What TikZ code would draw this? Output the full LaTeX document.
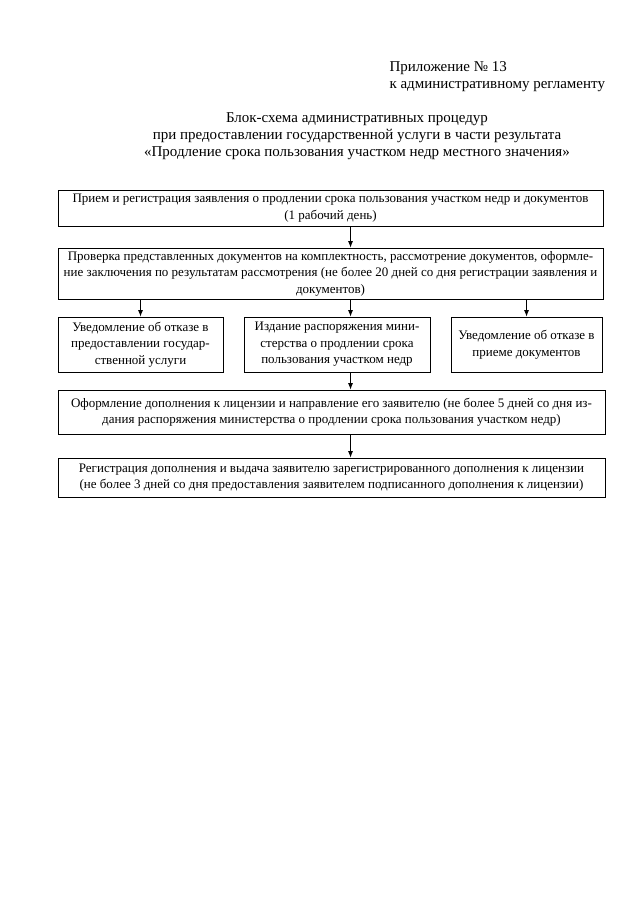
\documentclass[tikz,border=0pt]{standalone}
\usepackage{fontspec}
\setmainfont{Liberation Serif}
\usetikzlibrary{arrows.meta}
\tikzset{
  blok/.style={draw,line width=0.9pt,align=center,inner sep=0pt,
    font=\fontsize{13}{16.5}\selectfont},
  strelka/.style={-{Latex[length=6.5pt,width=5pt]},line width=0.7pt}
}
\begin{document}
\begin{tikzpicture}[x=1pt,y=-1pt]
   \fill[white] (0,0) rectangle (640,901);
   \useasboundingbox (0,0) rectangle (640,901);
   %header
   \node[anchor=west,align=left,font=\fontsize{15}{17}\selectfont] (pril) at (386,77)
     {Приложение № 13\\к административному регламенту};
   \node[align=center,font=\fontsize{15}{17}\selectfont] (zag) at (357,136)
     {Блок-схема административных процедур\\
      при предоставлении государственной услуги в части результата\\
      «Продление срока пользования участком недр местного значения»};
   %boxes
   \node[blok,minimum width=545,minimum height=36] (b1) at (330.5,208)
     {Прием и регистрация заявления о продлении срока пользования участком недр и документов\\
      (1 рабочий день)};
   \node[blok,minimum width=545,minimum height=51] (b2) at (330.5,273.5)
     {Проверка представленных документов на комплектность, рассмотрение документов, оформле-\\
      ние заключения по результатам рассмотрения (не более 20 дней со дня регистрации заявления и\\
      документов)};
   \node[blok,minimum width=165,minimum height=55] (b3a) at (140.5,344.5)
     {Уведомление об отказе в\\предоставлении государ-\\ственной услуги};
   \node[blok,minimum width=186,minimum height=55] (b3b) at (337,344.5)
     {Издание распоряжения мини-\\стерства о продлении срока\\пользования участком недр};
   \node[blok,minimum width=151,minimum height=55] (b3c) at (526.5,344.5)
     {Уведомление об отказе в\\приеме документов};
   \node[blok,minimum width=547,minimum height=44] (b4) at (331.5,412)
     {Оформление дополнения к лицензии и направление его заявителю (не более 5 дней со дня из-\\
      дания распоряжения министерства о продлении срока пользования участком недр)};
   \node[blok,minimum width=547,minimum height=39] (b5) at (331.5,477.5)
     {Регистрация дополнения и выдача заявителю зарегистрированного дополнения к лицензии\\
      (не более 3 дней со дня предоставления заявителем подписанного дополнения к лицензии)};
   %arrows
   \coordinate (os) at (350.5,0);
   \draw[strelka] (b1.south -| os) -- (b2.north -| os);
   \draw[strelka] (b2.south -| b3a) -- (b3a.north);
   \draw[strelka] (b2.south -| os) -- (b3b.north -| os);
   \draw[strelka] (b2.south -| b3c) -- (b3c.north);
   \draw[strelka] (b3b.south -| os) -- (b4.north -| os);
   \draw[strelka] (b4.south -| os) -- (b5.north -| os);
\end{tikzpicture}
\end{document}
